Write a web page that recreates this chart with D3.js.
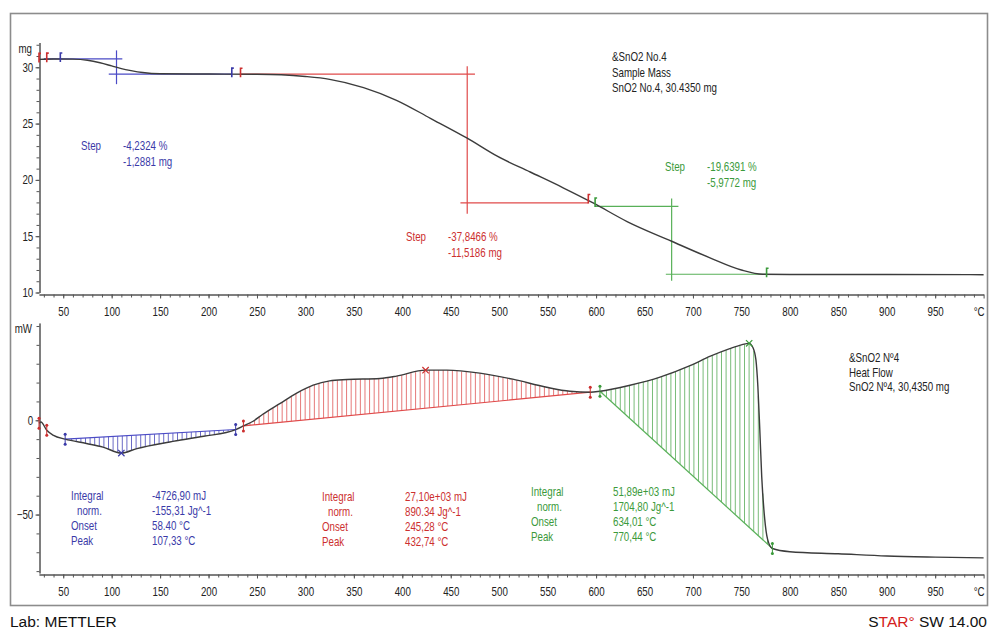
<!DOCTYPE html>
<html lang='en'>
  <head>
    <meta charset='utf-8'>
    <title>SnO2 No.4 TGA / DSC</title>
    <script type='text/javascript' src='https://cdn.jsdelivr.net/npm/d3@7/dist/d3.min.js'></script>
    <style type='text/css'>
      body { margin: 0; background-color: white; }
      svg { background-color: white; display: block; }
      .lbl { font-family: 'Liberation Sans', Arial, sans-serif; font-size: 12.5px; }
      .axis text { font-family: 'Liberation Sans', Arial, sans-serif; font-size: 12.5px; fill: #222; }
      .axis path, .axis line { stroke: #555; }
    </style>
  </head>
  <body>
    <div id='chart'></div>
    <script type='text/javascript'>

    // TGA curve (temperature °C, mass mg)
    var tgaTemp = [25, 40, 60, 75, 88, 100, 110, 120, 132, 150, 200, 250, 275, 300, 325, 360, 394, 429, 467, 498, 532, 566, 597, 632, 678, 717, 750, 772, 800, 900, 1000];
    var tgaMass = [30.70, 30.74, 30.72, 30.62, 30.40, 30.12, 29.88, 29.70, 29.53, 29.42, 29.40, 29.38, 29.33, 29.18, 28.93, 28.20, 27.07, 25.47, 23.70, 22.10, 20.70, 19.30, 17.95, 16.30, 14.55, 13.10, 12.00, 11.62, 11.60, 11.60, 11.58];

    // DSC curve (temperature °C, heat flow mW)
    var dscTemp = [25, 27, 33, 40, 52, 74, 91, 110, 126, 160, 195, 228, 236, 246, 256, 274, 291, 308, 325, 343, 377, 394, 424, 446, 480, 514, 549, 573, 594, 604, 635, 666, 697, 718, 738, 750, 758, 762, 765, 767, 769, 771, 774, 777, 782, 800, 850, 900, 950, 1000];
    var dscFlow = [-1.6, -0.9, -5.3, -8.0, -10.0, -12.3, -14.2, -17.4, -15.0, -11.5, -8.5, -4.9, -3.0, -0.5, 3.2, 9.0, 14.4, 18.6, 20.9, 21.6, 22.2, 23.4, 26.6, 26.6, 25.0, 21.8, 17.5, 15.4, 14.9, 15.4, 18.6, 22.9, 29.0, 34.0, 38.0, 40.0, 40.8, 38.5, 32.0, 18.0, -5.0, -30.0, -52.0, -63.0, -68.0, -69.7, -70.8, -72.0, -72.6, -73.0];

    // tick labels
    var xTickLabels = [50, 100, 150, 200, 250, 300, 350, 400, 450, 500, 550, 600, 650, 700, 750, 800, 850, 900, 950];
    var mgTickLabels = [10, 15, 20, 25, 30];
    var mwTickLabels = [-50, 0];

    // TGA steps: [T start, T end, mass] for the two horizontals, vertical [T, mass top, mass bottom]
    var stepNames = ['blue', 'red', 'green'];
    var stepUpper = [[30, 111, 30.74], [233, 475, 29.40], [599, 685, 17.65]];
    var stepLower = [[97, 224, 29.40], [460, 592, 17.95], [672, 776, 11.62]];
    var stepVert = [[105, 31.5, 28.5], [467, 30.1, 17.0], [678, 18.35, 11.05]];
    var stepText = [['-4,2324 %', '-1,2881 mg'], ['-37,8466 %', '-11,5186 mg'], ['-19,6391 %', '-5,9772 mg']];

    // DSC integrations: limits (°C), peak (°C) and results
    var peakLimits = [[52, 228], [236, 594], [604, 782]];
    var peakTemp = [110, 424, 758];
    var peakText = [
      ['-4726,90 mJ', '-155,31 Jg^-1', '58.40 °C', '107,33 °C'],
      ['27,10e+03 mJ', '890.34 Jg^-1', '245,28 °C', '432,74 °C'],
      ['51,89e+03 mJ', '1704,80 Jg^-1', '634,01 °C', '770,44 °C']
    ];

    var colors = { blue: ['#3a3aa8', '#4b4bc6', '#5a5ac0'], red: ['#cc2f2f', '#e04a4a', '#e26a6a'], green: ['#3b9a3b', '#58b058', '#6ab46a'] };
    var squeeze = 'scale(0.78,1)';   // the instrument font is a narrow one

    var svg = d3.select('#chart').append('svg')
        .attr('width', 990)
        .attr('height', 630);

    svg.append('rect')
        .attr('x', 10.5).attr('y', 13.5)
        .attr('width', 977).attr('height', 592)
        .attr('fill', 'none')
        .attr('stroke', '#8c8c8c')
        .attr('stroke-width', 1.6);

    // Scales
    var x = d3.scaleLinear().domain([25, 1000]).range([39, 983.6]);
    var yTop = d3.scaleLinear().domain([10, 32.2]).range([292.5, 42.5]);
    var yBot = d3.scaleLinear().domain([-81, 51.6]).range([573, 323]);

    function xAxis(yPos) {
      svg.append('g').attr('class', 'axis')
          .attr('transform', 'translate(0,' + yPos + ')')
          .call(d3.axisBottom(x).tickValues(d3.range(30, 1000, 10)).tickSize(3).tickSizeOuter(0).tickFormat(''));
      svg.append('g').attr('class', 'axis')
          .attr('transform', 'translate(0,' + yPos + ')')
          .call(d3.axisBottom(x).tickValues(xTickLabels.concat([1000])).tickSize(4).tickSizeOuter(0).tickPadding(9)
            .tickFormat(function(d) { return d === 1000 ? '°C' : d; }))
          .selectAll('text')
          .attr('transform', function(d) { return (d === 1000 ? 'translate(-5,0) ' : '') + squeeze; });
    }

    function yAxis(scale, minor, major, unit) {
      svg.append('g').attr('class', 'axis')
          .attr('transform', 'translate(39.5,0)')
          .call(d3.axisLeft(scale).tickValues(minor).tickSize(3).tickSizeOuter(0).tickFormat(''));
      svg.append('g').attr('class', 'axis')
          .attr('transform', 'translate(39.5,0)')
          .call(d3.axisLeft(scale).tickValues(major).tickSize(4).tickSizeOuter(0).tickPadding(4))
          .selectAll('text').attr('transform', squeeze);
      svg.append('text').attr('class', 'lbl')
          .attr('transform', 'translate(32,' + (scale.range()[1] + 10) + ') ' + squeeze)
          .attr('text-anchor', 'end')
          .attr('fill', '#222')
          .text(unit);
    }

    xAxis(294.5);
    xAxis(574.5);
    yAxis(yTop, d3.range(10, 33, 1), mgTickLabels, 'mg');
    yAxis(yBot, d3.range(-80, 51, 10), mwTickLabels, 'mW');

    function interp(temps, vals, t) {
      var i = d3.bisectRight(temps, t);
      if (i <= 0) return vals[0];
      if (i >= temps.length) return vals[vals.length - 1];
      var f = (t - temps[i - 1]) / (temps[i] - temps[i - 1]);
      return vals[i - 1] + f * (vals[i] - vals[i - 1]);
    }

    var tga = d3.zip(tgaTemp, tgaMass);
    var dsc = d3.zip(dscTemp, dscFlow);

    // TGA step construction lines
    stepNames.forEach(function(n, i) {
      var c = colors[n][1];
      var g = svg.append('g').attr('stroke', c).attr('stroke-width', 1.2);
      g.append('line')
          .attr('x1', x(stepUpper[i][0])).attr('x2', x(stepUpper[i][1]))
          .attr('y1', yTop(stepUpper[i][2])).attr('y2', yTop(stepUpper[i][2]));
      g.append('line')
          .attr('x1', x(stepLower[i][0])).attr('x2', x(stepLower[i][1]))
          .attr('y1', yTop(stepLower[i][2])).attr('y2', yTop(stepLower[i][2]));
      g.append('line')
          .attr('x1', x(stepVert[i][0])).attr('x2', x(stepVert[i][0]))
          .attr('y1', yTop(stepVert[i][1])).attr('y2', yTop(stepVert[i][2]));
    });

    // DSC integration hatching and baselines
    stepNames.forEach(function(n, i) {
      var t0 = peakLimits[i][0], t1 = peakLimits[i][1];
      var b0 = interp(dscTemp, dscFlow, t0), b1 = interp(dscTemp, dscFlow, t1);
      var base = function(t) { return b0 + (b1 - b0) * (t - t0) / (t1 - t0); };
      var hatch = d3.range(t0 + 2, t1, 4.6 / 0.9687);
      svg.append('g').selectAll('line')
          .data(hatch)
          .enter()
          .append('line')
          .attr('x1', function(d) { return x(d); })
          .attr('x2', function(d) { return x(d); })
          .attr('y1', function(d) { return yBot(interp(dscTemp, dscFlow, d)); })
          .attr('y2', function(d) { return yBot(base(d)); })
          .attr('stroke', colors[n][2])
          .attr('stroke-width', 0.9);
      svg.append('line')
          .attr('x1', x(t0)).attr('y1', yBot(b0))
          .attr('x2', x(t1)).attr('y2', yBot(b1))
          .attr('stroke', colors[n][1])
          .attr('stroke-width', 1.2);
    });

    // Curves
    svg.append('path')
        .datum(tga)
        .attr('fill', 'none')
        .attr('stroke', '#3c3c3c')
        .attr('stroke-width', 1.4)
        .attr('d', d3.line().x(function(d) { return x(d[0]); }).y(function(d) { return yTop(d[1]); }).curve(d3.curveMonotoneX));

    svg.append('path')
        .datum(dsc)
        .attr('fill', 'none')
        .attr('stroke', '#3c3c3c')
        .attr('stroke-width', 1.4)
        .attr('d', d3.line().x(function(d) { return x(d[0]); }).y(function(d) { return yBot(d[1]); }).curve(d3.curveMonotoneX));

    // limit markers
    function topFlag(t, c) {
      var px = x(t), py = yTop(interp(tgaTemp, tgaMass, t));
      svg.append('path')
          .attr('d', 'M' + px + ',' + (py + 3) + 'V' + (py - 6) + 'h2')
          .attr('fill', 'none').attr('stroke', c).attr('stroke-width', 1.6);
    }
    function botFlag(t, c) {
      var px = x(t), py = yBot(interp(dscTemp, dscFlow, t));
      svg.append('line')
          .attr('x1', px).attr('x2', px).attr('y1', py - 6).attr('y2', py + 6)
          .attr('stroke', c).attr('stroke-width', 1);
      svg.append('circle').attr('cx', px).attr('cy', py - 5).attr('r', 1.5).attr('fill', c);
      svg.append('circle').attr('cx', px).attr('cy', py + 5).attr('r', 1.5).attr('fill', c);
    }
    [[25, 'red'], [33, 'red'], [47, 'blue'], [224, 'blue'], [233, 'red'], [592, 'red'], [599, 'green'], [776, 'green']]
      .forEach(function(d) { topFlag(d[0], colors[d[1]][0]); });
    [[25, 'red'], [33, 'red'], [peakLimits[0][0], 'blue'], [peakLimits[0][1], 'blue'], [peakLimits[1][0], 'red'],
     [peakLimits[1][1], 'red'], [peakLimits[2][0], 'green'], [peakLimits[2][1], 'green']]
      .forEach(function(d) { botFlag(d[0], colors[d[1]][0]); });

    // peak crosses
    peakTemp.forEach(function(t, i) {
      svg.append('path')
          .attr('transform', 'translate(' + x(t) + ',' + yBot(interp(dscTemp, dscFlow, t)) + ')')
          .attr('d', d3.symbol(d3.symbolX, 28)())
          .attr('fill', 'none')
          .attr('stroke', colors[stepNames[i]][0])
          .attr('stroke-width', 1.2);
    });

    // texts
    function textBlock(px, py, lines, color, gap) {
      svg.append('g').selectAll('text')
          .data(lines)
          .enter()
          .append('text')
          .attr('class', 'lbl')
          .attr('transform', function(d, i) { return 'translate(' + (px + (d.indent || 0)) + ',' + (py + i * gap) + ') ' + squeeze; })
          .attr('fill', color)
          .text(function(d) { return d.t; });
    }
    function asLines(arr) { return arr.map(function(s) { return { t: s }; }); }

    textBlock(612, 61, asLines(['&SnO2 No.4', 'Sample Mass', 'SnO2 No.4, 30.4350 mg']), '#222', 15.5);
    textBlock(849, 362, asLines(['&SnO2 Nº4', 'Heat Flow', 'SnO2 Nº4, 30,4350 mg']), '#222', 14.5);

    var stepPos = [[81, 123, 150], [406, 448, 241], [665, 707, 171]];
    stepNames.forEach(function(n, i) {
      textBlock(stepPos[i][0], stepPos[i][2], asLines(['Step']), colors[n][0], 16);
      textBlock(stepPos[i][1], stepPos[i][2], asLines(stepText[i]), colors[n][0], 16);
    });

    var intLabels = [{ t: 'Integral' }, { t: 'norm.', indent: 6 }, { t: 'Onset' }, { t: 'Peak' }];
    var intPos = [[71, 152, 500], [322, 405, 501], [531, 613, 496]];
    stepNames.forEach(function(n, i) {
      textBlock(intPos[i][0], intPos[i][2], intLabels, colors[n][0], 15);
      textBlock(intPos[i][1], intPos[i][2], asLines(peakText[i]), colors[n][0], 15);
    });

    svg.append('text')
        .attr('x', 10).attr('y', 627)
        .style('font-family', 'Liberation Sans, Arial, sans-serif')
        .style('font-size', '15.5px')
        .attr('fill', '#111')
        .text('Lab: METTLER');

    var star = svg.append('text')
        .attr('x', 987).attr('y', 627)
        .attr('text-anchor', 'end')
        .style('font-family', 'Liberation Sans, Arial, sans-serif')
        .style('font-size', '15.5px')
        .attr('fill', '#111');
    star.append('tspan').text('S');
    star.append('tspan').attr('fill', '#d42020').text('TAR°');
    star.append('tspan').text(' SW 14.00');

    </script>
  </body>
</html>
